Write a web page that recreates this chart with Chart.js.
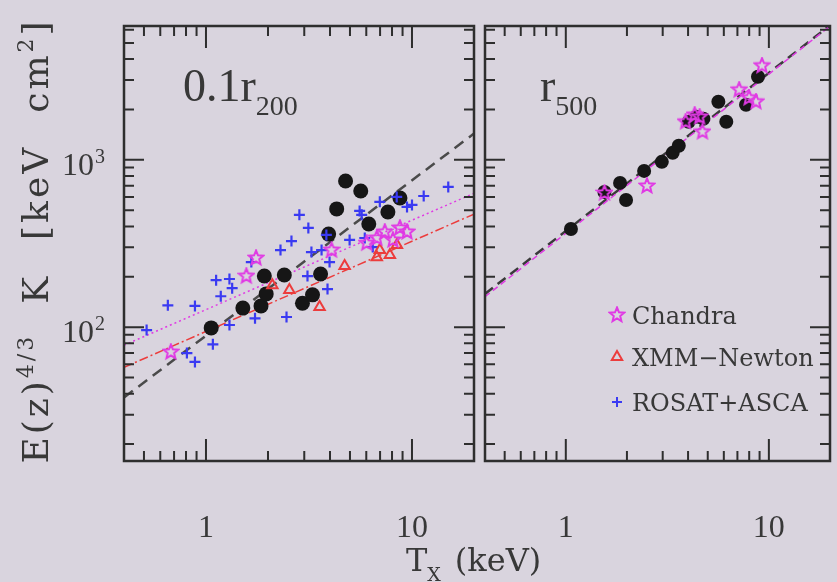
<!DOCTYPE html>
<html>
<head>
<meta charset="utf-8">
<script src="https://cdn.jsdelivr.net/npm/chart.js@4.4.1/dist/chart.umd.min.js"></script>
<style>
  html, body { margin: 0; padding: 0; background: #d9d4de; }
  #wrap { position: relative; width: 837px; height: 582px; overflow: hidden; }
  #wrap canvas { position: absolute; left: 0; top: 0; }
</style>
</head>
<body>
<div id="wrap">
  <canvas id="inner" width="837" height="582"></canvas>
  <canvas id="outer" width="837" height="582"></canvas>
</div>
<script>
// 0.1 r200 panel: temperature (keV) and scaled entropy (keV cm^2)
const innerDotT = [1.06, 1.51, 1.85, 1.96, 1.92, 2.40, 2.94, 3.29, 3.60, 3.94, 4.31, 4.76, 5.64, 6.17, 7.64, 8.74]
const innerDotK = [99, 130, 134, 158, 202, 205, 139, 156, 208, 360, 509, 748, 652, 414, 488, 592]
const innerStarT = [0.675, 1.57, 1.75, 4.07, 6.03, 6.75, 7.38, 8.08, 8.74, 9.46]
const innerStarK = [71, 202, 259, 289, 318, 341, 371, 332, 392, 371]
const innerTriT = [2.10, 2.54, 3.56, 4.71, 6.75, 7.81, 6.98, 8.45]
const innerTriK = [178, 167, 132, 232, 262, 270, 289, 310]
const innerCrossT = [0.515, 0.653, 0.884, 0.808, 0.884, 1.08, 1.12, 1.30, 1.18, 1.34, 1.73, 2.46, 1.66, 2.30, 2.60, 2.84, 3.14,
  3.11, 3.25, 3.64, 3.89, 3.84, 4.98, 5.57, 5.90, 6.45, 6.98, 8.43, 9.46, 10.0, 11.4, 15.0, 3.98, 1.30, 5.70]
const innerCrossK = [96, 135, 134, 70, 62, 79, 191, 194, 153, 171, 113, 115, 245, 289, 327, 469, 392,
  202, 281, 289, 169, 356, 332, 495, 341, 301, 561, 600, 523, 538, 608, 689, 245, 103, 469]

// r500 panel
const outerDotT = [1.06, 1.55, 1.85, 1.98, 2.43, 2.97, 3.36, 3.60, 4.03, 4.40, 4.76, 5.64, 6.17, 7.72, 8.84]
const outerDotK = [386, 643, 728, 576, 859, 973, 1101, 1213, 1689, 1808, 1760, 2225, 1689, 2134, 3140]
const outerStarT = [1.55, 2.51, 3.89, 4.31, 4.56, 4.71, 7.14, 7.99, 8.64, 9.25]
const outerStarK = [634, 698, 1690, 1858, 1808, 1471, 2624, 2350, 2225, 3655]

// best-fit relations, given at the two ends of the temperature range
const fitT = [0.4, 20]
const innerDashK = [38, 1436]
const innerDottedK = [78, 631]
const innerDashDotK = [57.5, 474]
const outerDashK = [158, 6370]
const outerDottedK = [152, 6300]

// axes
const tRange = [0.4, 20]
const kRange = [15.85, 6310]
const tMajor = [1, 10]
const tMinor = [0.5, 0.6, 0.7, 0.8, 0.9, 2, 3, 4, 5, 6, 7, 8, 9]
const kMajor = [100, 1000]
const kMinor = [20, 30, 40, 50, 60, 70, 80, 90, 200, 300, 400, 500, 600, 700, 800, 900, 2000, 3000, 4000, 5000, 6000]
const tTickLabels = ['1', '10']
const kTickLabels = [['10', '2'], ['10', '3']]
const legendNames = ['Chandra', 'XMM\u2212Newton', 'ROSAT+ASCA']

const ink = '#2e2e2e'
const textInk = '#383838'
const black = '#161616'
const blue = '#3a3af2'
const magenta = '#e03ae4'
const red = '#ec3c3c'
const clear = 'rgba(0,0,0,0)'

function pts (t, k) {
  return t.map((v, i) => ({ x: v, y: k[i] }))
}

// five-pointed open star used as a point style
function starImage (size, color) {
  const c = document.createElement('canvas')
  c.width = c.height = size
  const g = c.getContext('2d')
  const r = size / 2 - 1.5
  const ri = r * 0.45
  const cx = size / 2
  g.beginPath()
  for (let i = 0; i < 10; i++) {
    const a = -Math.PI / 2 + i * Math.PI / 5
    const rr = i % 2 ? ri : r
    g.lineTo(cx + rr * Math.cos(a), cx + rr * Math.sin(a))
  }
  g.closePath()
  g.strokeStyle = color
  g.lineWidth = 2
  g.stroke()
  return c
}
const star = starImage(18, magenta)

// draws runs of text with their own size and vertical shift
function drawRuns (ctx, runs, x, y) {
  let cx = x
  runs.forEach(r => {
    if (r.gap) { cx += r.gap; return }
    ctx.font = r.size + 'px ' + (r.family || "'DejaVu Serif'")
    ctx.fillText(r.t, cx, y + (r.dy || 0))
    cx += ctx.measureText(r.t).width
  })
  return cx - x
}
function runsWidth (ctx, runs) {
  let w = 0
  runs.forEach(r => {
    if (r.gap) { w += r.gap; return }
    ctx.font = r.size + 'px ' + (r.family || "'DejaVu Serif'")
    w += ctx.measureText(r.t).width
  })
  return w
}

// frame, inward ticks on all four sides, labels
const panelPlugin = {
  id: 'panel',
  afterDatasetsDraw (chart, args, opts) {
    const { ctx, chartArea: a, scales: { x, y } } = chart
    ctx.save()
    ctx.strokeStyle = ink
    ctx.lineWidth = 2
    ctx.beginPath()
    const tickX = (v, len) => {
      const px = x.getPixelForValue(v)
      ctx.moveTo(px, a.bottom); ctx.lineTo(px, a.bottom - len)
      ctx.moveTo(px, a.top); ctx.lineTo(px, a.top + len)
    }
    const tickY = (v, len) => {
      const py = y.getPixelForValue(v)
      ctx.moveTo(a.left, py); ctx.lineTo(a.left + len, py)
      ctx.moveTo(a.right, py); ctx.lineTo(a.right - len, py)
    }
    tMinor.forEach(v => tickX(v, 10))
    tMajor.forEach(v => tickX(v, 22))
    kMinor.forEach(v => tickY(v, 10))
    kMajor.forEach(v => tickY(v, 20))
    ctx.stroke()
    ctx.lineWidth = 2.5
    ctx.strokeRect(a.left, a.top, a.width, a.height)

    ctx.fillStyle = textInk
    ctx.textBaseline = 'alphabetic'

    // x tick labels
    ctx.font = "32px 'Liberation Serif'"
    ctx.textAlign = 'center'
    tMajor.forEach((v, i) => ctx.fillText(tTickLabels[i], x.getPixelForValue(v), 537))
    ctx.textAlign = 'left'

    // y tick labels
    if (opts.yLabels) {
      kMajor.forEach((v, i) => {
        const py = y.getPixelForValue(v)
        ctx.font = "32px 'Liberation Serif'"
        ctx.textAlign = 'right'
        ctx.fillText(kTickLabels[i][0], 94, py + 15)
        ctx.font = "20px 'Liberation Serif'"
        ctx.textAlign = 'left'
        ctx.fillText(kTickLabels[i][1], 95, py + 3)
      })
    }

    // panel label
    const lab = opts.label
    drawRuns(ctx, [
      { t: lab[0], size: 46, family: "'Liberation Serif'" },
      { t: lab[1], size: 28, dy: 14, family: "'Liberation Serif'" }
    ], lab[2], 101)

    // axis titles
    if (opts.titles) {
      drawRuns(ctx, [
        { t: 'T', size: 32 },
        { t: 'X', size: 19, dy: 10 },
        { gap: 14 },
        { t: '(keV)', size: 32 }
      ], 406, 571)

      ctx.save()
      ctx.translate(48, 241)
      ctx.rotate(-Math.PI / 2)
      ctx.letterSpacing = '3px'
      const runs = [
        { t: 'E(z)', size: 36 },
        { t: '4/3', size: 22, dy: -15 },
        { gap: 30 },
        { t: 'K', size: 36 },
        { gap: 34 },
        { t: '[keV', size: 36 },
        { gap: 32 },
        { t: 'cm', size: 36 },
        { t: '2', size: 22, dy: -15 },
        { t: ']', size: 36 }
      ]
      drawRuns(ctx, runs, -runsWidth(ctx, runs) / 2, 0)
      ctx.restore()
    }

    // legend
    if (opts.legend) {
      const rows = [315, 357, 402]
      const styles = [
        { pointStyle: star, radius: 8 },
        { pointStyle: 'triangle', radius: 6 },
        { pointStyle: 'cross', radius: 5 }
      ]
      const colors = [magenta, red, blue]
      rows.forEach((ry, i) => {
        ctx.strokeStyle = colors[i]
        ctx.fillStyle = clear
        ctx.lineWidth = 2
        Chart.helpers.drawPoint(ctx, { rotation: 0, borderWidth: 2, ...styles[i] }, 617, ry)
        ctx.fillStyle = textInk
        ctx.font = "24px 'DejaVu Serif'"
        ctx.fillText(legendNames[i], 632, ry + 9)
      })
    }
    ctx.restore()
  }
}

function fitLine (k, color, dash, width, order) {
  return {
    data: pts(fitT, k),
    showLine: true,
    borderColor: color,
    borderWidth: width,
    borderDash: dash,
    pointRadius: 0,
    order: order
  }
}

function panelOptions (padding, panelOpts) {
  return {
    responsive: false,
    animation: false,
    events: [],
    layout: { padding: padding },
    scales: {
      x: { type: 'logarithmic', min: tRange[0], max: tRange[1], bounds: 'data', display: false },
      y: { type: 'logarithmic', min: kRange[0], max: kRange[1], bounds: 'data', display: false }
    },
    plugins: {
      legend: { display: false },
      tooltip: { enabled: false },
      panel: panelOpts
    }
  }
}

new Chart(document.getElementById('inner'), {
  type: 'scatter',
  data: {
    datasets: [
      fitLine(innerDashK, '#4a4a4a', [11, 7], 2.5, 10),
      fitLine(innerDottedK, magenta, [2, 3], 1.5, 9),
      fitLine(innerDashDotK, red, [9, 3, 2, 3], 1.5, 8),
      { data: pts(innerDotT, innerDotK), pointStyle: 'circle', pointRadius: 7.5, pointBackgroundColor: black, pointBorderWidth: 0, order: 5 },
      { data: pts(innerCrossT, innerCrossK), pointStyle: 'cross', pointRadius: 5.5, pointBorderColor: blue, pointBorderWidth: 2.2, order: 4 },
      { data: pts(innerTriT, innerTriK), pointStyle: 'triangle', pointRadius: 6, pointBorderColor: red, pointBackgroundColor: clear, pointBorderWidth: 2, order: 3 },
      { data: pts(innerStarT, innerStarK), pointStyle: star, order: 2 }
    ]
  },
  options: panelOptions({ left: 124, right: 363, top: 26, bottom: 121 },
    { yLabels: true, titles: true, legend: false, label: ['0.1r', '200', 183] }),
  plugins: [panelPlugin]
})

new Chart(document.getElementById('outer'), {
  type: 'scatter',
  data: {
    datasets: [
      fitLine(outerDashK, '#3a3a3a', [10, 6], 2.5, 10),
      fitLine(outerDottedK, magenta, [6, 4], 1.5, 9),
      { data: pts(outerDotT, outerDotK), pointStyle: 'circle', pointRadius: 7, pointBackgroundColor: black, pointBorderWidth: 0, order: 5 },
      { data: pts(outerStarT, outerStarK), pointStyle: star, order: 2 }
    ]
  },
  options: panelOptions({ left: 485, right: 2, top: 26, bottom: 121 },
    { yLabels: false, titles: false, legend: true, label: ['r', '500', 540] }),
  plugins: [panelPlugin]
})
</script>
</body>
</html>
